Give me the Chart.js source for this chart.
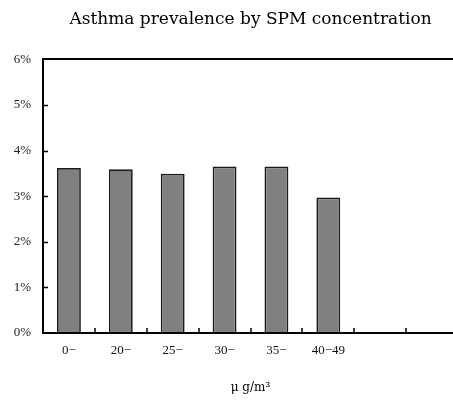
<!DOCTYPE html>
<html>
<head>
<meta charset="utf-8">
<script src="https://cdn.jsdelivr.net/npm/chart.js@4"></script>
<style>
    html, body { margin: 0; padding: 0; background: #fff; overflow: hidden; }
    #wrap { width: 502px; height: 403px; position: relative; }
</style>
</head>
<body>
<div id="wrap"><canvas id="spmChart"></canvas></div>
<script>
// Datos del gráfico
const categories = ['0\u2212', '20\u2212', '25\u2212', '30\u2212', '35\u2212', '40\u221249', '', ''];
const prevalence = [3.62, 3.59, 3.49, 3.65, 3.65, 2.97, null, null];
const yTicks = [0, 1, 2, 3, 4, 5, 6];

const serif = "'Liberation Serif', 'DejaVu Serif', serif";
const wideSerif = "'DejaVu Serif', 'Liberation Serif', serif";

// Marcas de eje hacia dentro
const innerTicks = {
    id: 'innerTicks',
    afterDatasetsDraw(chart) {
        const ctx = chart.ctx;
        const x = chart.scales.x;
        const y = chart.scales.y;
        const area = chart.chartArea;
        ctx.save();
        ctx.strokeStyle = '#000';
        ctx.lineWidth = 1.5;
        ctx.beginPath();
        yTicks.slice(1, -1).forEach(v => {
            const py = Math.round(y.getPixelForValue(v)) + 0.5;
            ctx.moveTo(area.left, py);
            ctx.lineTo(area.left + 5, py);
        });
        for (let i = 0; i < categories.length - 1; i++) {
            const px = Math.round((x.getPixelForValue(i) + x.getPixelForValue(i + 1)) / 2);
            ctx.moveTo(px, area.bottom);
            ctx.lineTo(px, area.bottom - 5);
        }
        ctx.stroke();
        ctx.restore();
    }
};

const ctx = document.getElementById('spmChart').getContext('2d');
new Chart(ctx, {
    type: 'bar',
    data: {
        labels: categories,
        datasets: [{
            data: prevalence,
            backgroundColor: '#808080',
            borderColor: '#1a1a1a',
            borderWidth: 1.7,
            borderSkipped: 'bottom',
            categoryPercentage: 1,
            barPercentage: 0.46
        }]
    },
    options: {
        responsive: true,
        maintainAspectRatio: false,
        animation: false,
        layout: { padding: { left: 0, right: 44, top: 0, bottom: 0 } },
        plugins: {
            legend: { display: false },
            tooltip: { enabled: false },
            title: {
                display: true,
                fullSize: false,
                text: 'Asthma prevalence by SPM concentration',
                color: '#000',
                font: { family: wideSerif, size: 17, weight: 'normal' },
                padding: { top: 9, bottom: 30 }
            }
        },
        scales: {
            x: {
                grid: { display: false, drawTicks: false },
                border: { color: '#000', width: 2 },
                ticks: {
                    color: '#111',
                    padding: 10,
                    maxRotation: 0,
                    autoSkip: false,
                    font: { family: serif, size: 13 }
                },
                title: {
                    display: true,
                    text: '\u03bc g/m\u00b3',
                    color: '#000',
                    font: { family: wideSerif, size: 12 },
                    padding: { top: 0, bottom: 8 }
                },
                afterFit(scale) { scale.height = 70; }
            },
            y: {
                min: 0,
                max: 6,
                afterBuildTicks(scale) {
                    scale.ticks = yTicks.map(v => ({ value: v }));
                },
                grid: {
                    drawTicks: false,
                    lineWidth: 2,
                    color: c => (c.tick && c.tick.value === 6) ? '#000' : 'rgba(0,0,0,0)'
                },
                border: { color: '#000', width: 2 },
                ticks: {
                    color: '#222',
                    padding: 12,
                    font: { family: serif, size: 13 },
                    callback: v => v + '%'
                },
                afterFit(scale) { scale.width = 43; }
            }
        }
    },
    plugins: [innerTicks]
});
</script>
</body>
</html>
